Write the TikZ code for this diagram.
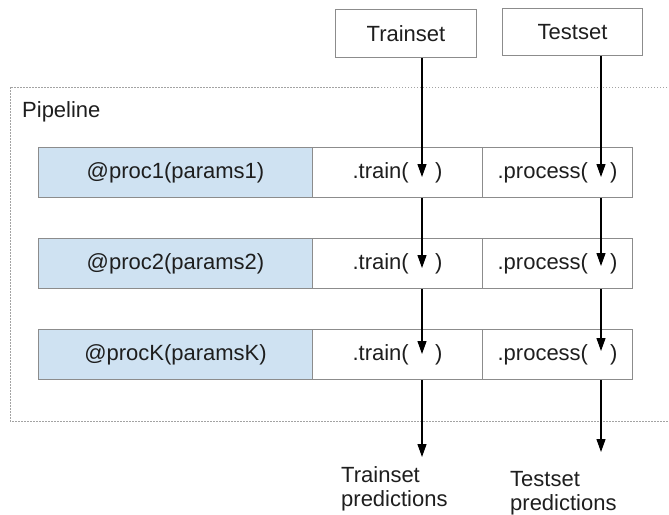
\documentclass[tikz,border=0pt]{standalone}
\usepackage{fontspec}
\setmainfont{Liberation Sans}
\usetikzlibrary{arrows.meta,calc}
\definecolor{procblue}{RGB}{207,226,242}
\definecolor{boxgray}{RGB}{140,140,140}
\definecolor{txt}{RGB}{30,30,30}
\tikzset{
	cell/.style={draw=boxgray, line width=1pt, minimum height=50pt, inner sep=0pt, anchor=north west, text=txt},
	feed/.style={-{Triangle[length=13pt,width=9pt]}, line width=1.2pt},
}

\begin{document}
\begin{tikzpicture}[x=1pt, y=-1pt, font=\fontsize{22}{24}\selectfont]
		%%%%% START %%%%%
		\clip (0, 0) rectangle (669, 514);
		
		\coordinate (tx) at (422, 0);
		\coordinate (px) at (601, 0);
		
		\draw[boxgray!80, line width=0.8pt, dash pattern=on 1.5pt off 1.5pt] (10, 87) rectangle (690, 421);
		\node[anchor=base west, inner sep=0pt, text=txt] (pipeline) at (22, 117) {Pipeline};
		
		\node[cell, minimum width=141pt, minimum height=48pt] (trainset) at (335, 9) {Trainset};
		\node[cell, minimum width=140pt, minimum height=47pt] (testset) at (502, 8) {Testset};
		
		\node[cell, fill=procblue, minimum width=274pt] (proc1) at (38, 147) {@proc1(params1)};
		\node[cell, minimum width=170pt] (train1) at (312, 147) {.train(\hspace{1.2em})};
		\node[cell, minimum width=150pt] (process1) at (482, 147) {.process(\hspace{1em})};
		
		\node[cell, fill=procblue, minimum width=274pt] (proc2) at (38, 238) {@proc2(params2)};
		\node[cell, minimum width=170pt] (train2) at (312, 238) {.train(\hspace{1.2em})};
		\node[cell, minimum width=150pt] (process2) at (482, 238) {.process(\hspace{1em})};
		
		\node[cell, fill=procblue, minimum width=274pt] (proc3) at (38, 329) {@procK(paramsK)};
		\node[cell, minimum width=170pt] (train3) at (312, 329) {.train(\hspace{1.2em})};
		\node[cell, minimum width=150pt] (process3) at (482, 329) {.process(\hspace{1em})};
		
		\draw[feed] (tx |- trainset.south) -- ($(tx |- train1.north)+(0, 30)$);
		\draw[feed] (tx |- train1.south) -- ($(tx |- train2.north)+(0, 30)$);
		\draw[feed] (tx |- train2.south) -- ($(tx |- train3.north)+(0, 25)$);
		
		\draw[feed] (px |- testset.south) -- ($(px |- process1.north)+(0, 30)$);
		\draw[feed] (px |- process1.south) -- ($(px |- process2.north)+(0, 28)$);
		\draw[feed] (px |- process2.south) -- ($(px |- process3.north)+(0, 22)$);
		
		\coordinate (trainout) at (422, 457);
		\coordinate (testout) at (601, 452);
		\draw[feed] (tx |- train3.south) -- (trainout);
		\draw[feed] (px |- process3.south) -- (testout);
		
		\node[anchor=north west, inner sep=0pt, align=left, text=txt] (trainpred) at (341, 466) {Trainset\\predictions};
		\node[anchor=north west, inner sep=0pt, align=left, text=txt] (testpred) at (510, 471) {Testset\\predictions};
		
		%%%%% END %%%%%
\end{tikzpicture}
\end{document}
